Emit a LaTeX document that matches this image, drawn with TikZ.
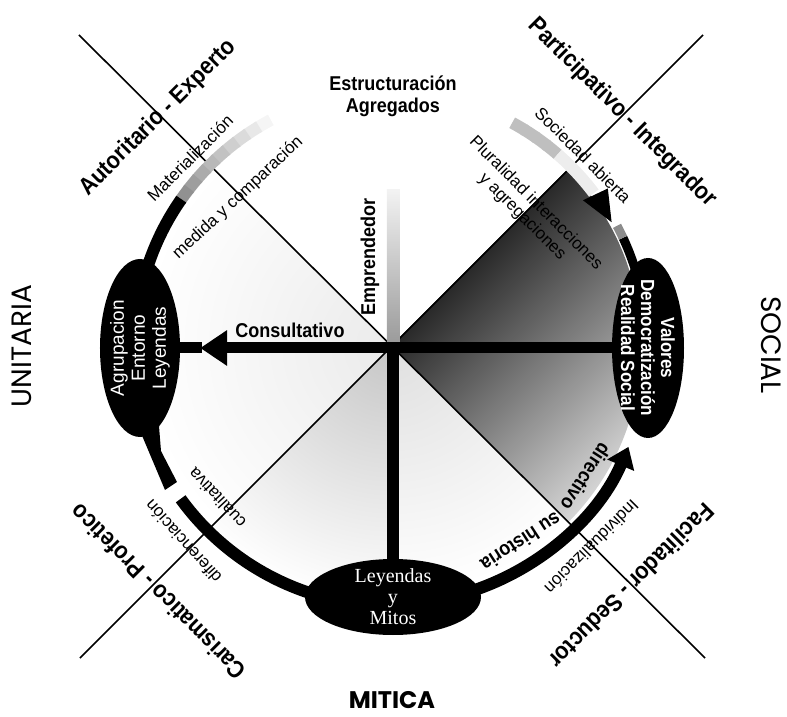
\documentclass[tikz,border=0pt]{standalone}
\usepackage{fontspec}
\setmainfont{Liberation Sans}
\newfontfamily\condfont[FakeStretch=0.9]{Liberation Sans}
\newfontfamily\geofont{Poppins}
\newfontfamily\romfont{Liberation Serif}
\usetikzlibrary{shapes.geometric,arrows.meta}

\begin{document}
\begin{tikzpicture}[x=1pt, y=1pt,
    ring/.style={line width=12pt},
    spoke/.style={line width=11pt},
    axisline/.style={line width=1.6pt},
    blob/.style={ellipse, fill=black, text=white, inner sep=-10pt, align=center},
    title/.style={font=\condfont\bfseries\fontsize{24}{26}\selectfont},
    tag/.style={font=\fontsize{17}{19}\selectfont},
    boldtag/.style={font=\condfont\bfseries\fontsize{20}{22}\selectfont, align=center},
    side/.style={font=\geofont\fontsize{28}{30}\selectfont}]

    \useasboundingbox (-391,-371) rectangle (396,346);

    % Shaded sectors
    \shade[top color=black, bottom color=gray!30, shading angle=45]
        (0,0) -- (-45:250) arc[start angle=-45, end angle=45, radius=250] -- cycle;
    \begin{scope}
        \clip (0,0) -- (135:260) arc[start angle=135, end angle=225, radius=260] -- cycle;
        \shade[inner color=gray!16, outer color=white] (0,0) circle (250);
    \end{scope}
    \begin{scope}
        \clip (0,0) -- (225:260) arc[start angle=225, end angle=270, radius=260] -- cycle;
        \shade[inner color=gray!45, outer color=white] (0,0) circle (260);
    \end{scope}
    \begin{scope}
        \clip (0,0) -- (270:260) arc[start angle=270, end angle=315, radius=260] -- cycle;
        \shade[inner color=gray!25, outer color=white] (0,0) circle (250);
    \end{scope}

    % Diagonals
    \coordinate (nw) at (-312,311);
    \coordinate (se) at (314,-312);
    \coordinate (ne) at (312,311);
    \coordinate (sw) at (-311,-312);
    \draw[axisline] (nw) -- (se);
    \draw[axisline] (ne) -- (sw);

    % Upward bar
    \shade[top color=gray!10, bottom color=gray!80] (-4,0) rectangle (9,156);

    % Ring: faded ends at the top
    \foreach \a in {118,121,...,142} {
        \pgfmathtruncatemacro{\tone}{(\a-115)*1.6}
        \draw[ring, black!\tone] (\a:256) arc[start angle=\a, end angle=\a+3.5, radius=256];
    }
    \foreach \a in {49,52,...,58} {
        \draw[ring, black!25] (\a:254) arc[start angle=\a, end angle=\a+3.5, radius=254];
    }
    \draw[ring, black!7] (37:254) arc[start angle=37, end angle=49, radius=254];

    % Ring: solid parts
    \draw[ring] (145:256) arc[start angle=145, end angle=172, radius=256];
    \draw[ring] (216:260) arc[start angle=216, end angle=252, radius=260];
    \draw[ring, -{Triangle[length=20pt, width=28pt]}] (288:258) arc[start angle=288, end angle=337, radius=258];
    \draw[line width=9pt] (12:256) arc[start angle=12, end angle=25, radius=256];
    \draw[line width=9pt, black!45] (25:256) arc[start angle=25, end angle=28, radius=256];

    % Arrowheads on the ring
    \fill (-253,-80) -- (-226,-144) -- (-214,-136) -- (-230,-105) -- (-232,-80) -- cycle;
    \fill (29.3:253) -- (37.2:241) -- (36:268) -- cycle;

    % Ellipses
    \node[blob, rotate=90, minimum width=178pt, minimum height=80pt,
          font=\fontsize{19}{21}\selectfont] (agrup) at (-251,-2) {Agrupacion\\Entorno\\Leyendas};
    \node[blob, rotate=-90, minimum width=180pt, minimum height=72pt,
          font=\condfont\bfseries\fontsize{19}{20}\selectfont] (valores) at (257,-2) {Valores\\Democratización\\Realidad Social};
    \node[blob, minimum width=176pt, minimum height=76pt,
          font=\romfont\fontsize{20}{21}\selectfont] (mitos) at (2,-251) {Leyendas\\y\\Mitos};

    % Spokes
    \coordinate (hub) at (2,-2);
    \draw[spoke, -{Triangle[length=27pt, width=34pt]}] (hub) -- ([xshift=20pt]agrup.south);
    \draw[spoke] (agrup.south) -- ++(22,0);
    \draw[spoke] (hub) -- (valores);
    \draw[spoke, line width=12pt] (hub) -- (mitos);

    % Labels
    \node[boldtag] (estruct) at (2,250) {Estructuración\\Agregados};
    \node[boldtag, rotate=90] (empr) at (-21,89) {Emprendedor};
    \node[boldtag] (consult) at (-101,16) {Consultativo};
    \node[title, rotate=45] (autor) at (-233,228) {Autoritario - Experto};
    \node[tag, rotate=45] (mater) at (-201,188) {Materialización};
    \node[tag, rotate=43] (medida) at (-153,148) {medida y comparación};
    \node[title, rotate=-45] (partic) at (231,233) {Participativo - Integrador};
    \node[tag, rotate=-45] (socied) at (192,191) {Sociedad abierta};
    \node[tag, rotate=-45, align=center] (plural) at (138,136) {Pluralidad interacciones\\y agregaciones};
    \node[title, rotate=225] (facil) at (241,-240) {Facilitador - Seductor};
    \node[tag, rotate=225] (indiv) at (201,-201) {Individualización};
    \node[boldtag, rotate=213] (histor) at (130,-196) {su historia};
    \node[boldtag, rotate=237] (direct) at (195,-131) {directivo};
    \node[title, rotate=135] (caris) at (-233,-246) {Carismatico - Profetico};
    \node[tag, rotate=132] (difer) at (-208,-196) {diferenciación};
    \node[tag, rotate=133] (cualit) at (-174,-152) {cualitativa};
    \node[side, rotate=90] (unit) at (-369,0) {UNITARIA};
    \node[side, rotate=-90] (social) at (380,1) {SOCIAL};
    \node[side, font=\geofont\bfseries\fontsize{24}{26}\selectfont] (mitica) at (1,-354) {MITICA};

\end{tikzpicture}
\end{document}
